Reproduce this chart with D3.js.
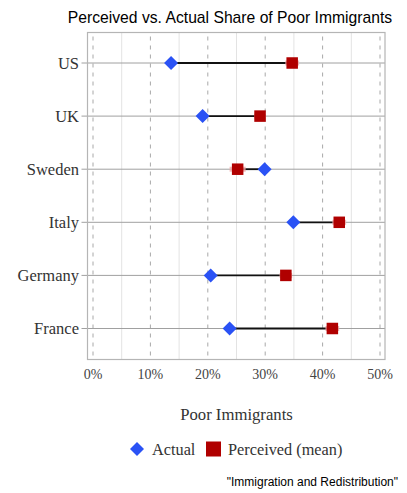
<!DOCTYPE html>
<html><head><meta charset="utf-8">
<script src="https://cdn.jsdelivr.net/npm/d3@7"></script>
<style>body{margin:0;background:#fff}svg{display:block}</style>
</head><body>
<svg id="c" width="407" height="493"></svg>
<script>
const countries = ["US","UK","Sweden","Italy","Germany","France"];
const actual = [13.6, 19.1, 29.9, 34.9, 20.5, 23.8];
const perceived = [34.7, 29.1, 25.2, 42.9, 33.6, 41.7];
const perceivedCI = [1.2, 1.0, 1.4, 1.2, 1.1, 1.2];
const xTicks = [0,10,20,30,40,50];
const minorTicks = [5,15,25,35,45];

const svg = d3.select("#c");
const L = 87.5, R = 385, T = 32.5, B = 359.5;
const x = d3.scaleLinear().domain([0,50]).range([93,380]);
const y = d3.scalePoint().domain(countries).range([63,328.5]);
const serif = "'Liberation Serif','DejaVu Serif',serif";
const sans = "'Liberation Sans',Arial,sans-serif";

svg.append("text").attr("x",230).attr("y",23).attr("text-anchor","middle")
  .style("font-family",sans).style("font-size","15.7px").attr("fill","#000")
  .text("Perceived vs. Actual Share of Poor Immigrants");

const g = svg.append("g");
g.selectAll(".mg").data(minorTicks).join("line")
  .attr("x1",d=>x(d)).attr("x2",d=>x(d)).attr("y1",T).attr("y2",B)
  .attr("stroke","#e3e3e3").attr("stroke-width",1);
g.selectAll(".dg").data(xTicks).join("line")
  .attr("x1",d=>x(d)).attr("x2",d=>x(d)).attr("y1",T+4).attr("y2",B)
  .attr("stroke","#a8a8a8").attr("stroke-width",1).attr("stroke-dasharray","4,5");
g.selectAll(".cl").data(countries).join("line")
  .attr("x1",L-6).attr("x2",R).attr("y1",d=>y(d)).attr("y2",d=>y(d))
  .attr("stroke","#a0a0a0").attr("stroke-width",1);
g.append("rect").attr("x",L).attr("y",T).attr("width",R-L).attr("height",B-T)
  .attr("fill","none").attr("stroke","#b5b5b5").attr("stroke-width",1.2);

g.selectAll(".yl").data(countries).join("text")
  .attr("x",79).attr("y",d=>y(d)+5.5).attr("text-anchor","end")
  .style("font-family",serif).style("font-size","16.5px").attr("fill","#333")
  .text(d=>d);
g.selectAll(".xl").data(xTicks).join("text")
  .attr("x",d=>x(d)).attr("y",379).attr("text-anchor","middle")
  .style("font-family",serif).style("font-size","14px").attr("fill","#444")
  .text(d=>d+"%");

g.selectAll(".seg").data(countries).join("line")
  .attr("x1",(d,i)=>x(actual[i])).attr("x2",(d,i)=>x(perceived[i]))
  .attr("y1",d=>y(d)).attr("y2",d=>y(d))
  .attr("stroke","#111").attr("stroke-width",1.8);
g.selectAll(".ci").data(countries).join("line")
  .attr("x1",(d,i)=>x(perceived[i]-perceivedCI[i])).attr("x2",(d,i)=>x(perceived[i]+perceivedCI[i]))
  .attr("y1",d=>y(d)).attr("y2",d=>y(d))
  .attr("stroke","#f0a8a8").attr("stroke-width",5).attr("opacity",0.8);
const sq = 11.5;
g.selectAll(".sq").data(countries).join("rect")
  .attr("x",(d,i)=>x(perceived[i])-sq/2).attr("y",d=>y(d)-sq/2)
  .attr("width",sq).attr("height",sq).attr("fill","#b00000");
const dm = 7;
g.selectAll(".dm").data(countries).join("path")
  .attr("d",(d,i)=>{const cx=x(actual[i]), cy=y(d);
    return `M${cx},${cy-dm}L${cx+dm},${cy}L${cx},${cy+dm}L${cx-dm},${cy}Z`;})
  .attr("fill","#2a52f5");

svg.append("text").attr("x",236.5).attr("y",420).attr("text-anchor","middle")
  .style("font-family",serif).style("font-size","16.7px").attr("fill","#333")
  .text("Poor Immigrants");

const ly = 449;
svg.append("path").attr("d",`M137,${ly-7}L144,${ly}L137,${ly+7}L130,${ly}Z`).attr("fill","#2a52f5");
svg.append("text").attr("x",152).attr("y",ly+5.5).style("font-family",serif)
  .style("font-size","16.3px").attr("fill","#333").text("Actual");
svg.append("rect").attr("x",206).attr("y",ly-7.5).attr("width",15).attr("height",15).attr("fill","#b00000");
svg.append("text").attr("x",228).attr("y",ly+5.5).style("font-family",serif)
  .style("font-size","16.3px").attr("fill","#333").text("Perceived (mean)");

svg.append("text").attr("x",398).attr("y",486).attr("text-anchor","end")
  .style("font-family",sans).style("font-size","12px").attr("fill","#000")
  .text("\"Immigration and Redistribution\"");
</script>
</body></html>
